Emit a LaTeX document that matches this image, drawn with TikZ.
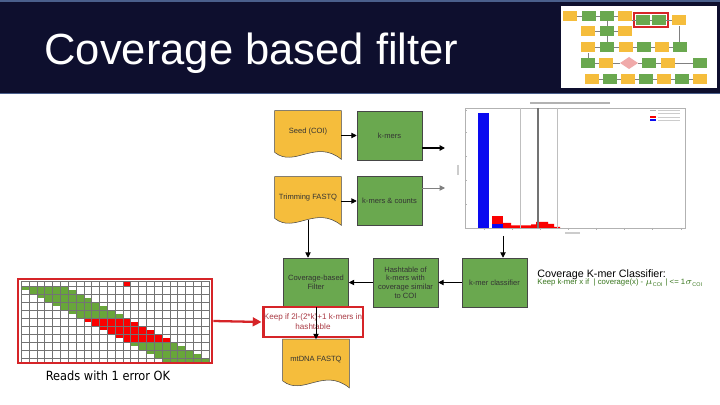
\documentclass[tikz,border=0pt]{standalone}
\usepackage{fontspec}
\setmainfont{Liberation Sans}
\newfontfamily\readsfont{DejaVu Sans Condensed}
\usepackage{tikz}
\usetikzlibrary{arrows.meta, positioning, calc, backgrounds}
\usepackage{xcolor}

\definecolor{barnavy}{RGB}{14,15,46}
\definecolor{barline}{RGB}{74,95,140}
\definecolor{docyellow}{RGB}{245,189,60}
\definecolor{boxgreen}{RGB}{106,168,79}
\definecolor{edgegray}{RGB}{70,70,70}
\definecolor{hlred}{RGB}{214,36,40}
\definecolor{keeptext}{RGB}{170,60,70}
\definecolor{readgreen}{RGB}{104,166,58}
\definecolor{readred}{RGB}{250,0,0}
\definecolor{rulegreen}{RGB}{56,118,29}
\definecolor{histblue}{RGB}{10,10,240}
\definecolor{thumbpink}{RGB}{240,170,170}

\newcommand\boxfont{\fontsize{4.3}{5}\selectfont}
\newcommand\docpath[1]{%
  \filldraw[fill=docyellow, draw=edgegray, line width=0.3pt]
    (#1.north west) -- (#1.north east) -- ($(#1.south east)+(0,7)$)
    .. controls ($(#1.south east)+(-26,-14)$) and ($(#1.south west)+(20,16)$) .. (#1.south west) -- cycle;}

\tikzset{
  flowbox/.style={draw=edgegray, line width=0.3pt, fill=boxgreen, minimum width=1.3cm,
    minimum height=0.98cm, align=center, font=\boxfont, inner sep=1pt, text=black!80},
  doctext/.style={minimum width=1.32cm, minimum height=0.82cm, align=center,
    font=\boxfont, inner sep=1pt, text=black!80},
  arr/.style={-{Triangle[length=3pt,width=3pt]}, line width=0.5pt},
  gridline/.style={black!55, line width=0.15pt},
}

\begin{document}
\begin{tikzpicture}[x=0.02cm, y=-0.02cm]
  \useasboundingbox (0,0) rectangle (720,405);

  % title bar
  \fill[barnavy] (0,0) rectangle (720,94);
  \draw[barline, line width=1pt] (0,0.8) -- (720,0.8);
  \draw[barline, line width=1pt] (0,93.5) -- (720,93.5);
  \node[anchor=base west, text=white, font=\fontsize{24.8}{28}\selectfont, inner sep=0pt]
    (title) at (44,65) {Coverage based filter};

  % thumbnail of the whole pipeline
  \fill[white] (561,6) rectangle (717,88);
  \foreach \x/\y in {563/11,618/11,672/15,581/26,618/26,581/42,619/42,655/42,599/58,661/58,
                     585/74,621/74,657/74,693/74}
    \fill[docyellow] (\x,\y) rectangle ++(14,10);
  \foreach \x/\y in {582/11,600/11,636/15,652/15,600/26,600/42,637/42,673/42,581/58,642/58,
                     693/58,603/74,639/74,675/74}
    \fill[boxgreen] (\x,\y) rectangle ++(14,10);
  \fill[thumbpink] (620,63) -- (629,57) -- (638,63) -- (629,69) -- cycle;
  \draw[hlred, line width=0.8pt] (634,13) rectangle (668,27);
  \foreach \xa/\xb/\y in {577/582/16,596/600/16,614/618/16,632/636/20,650/652/20,666/672/20,
                          595/600/31,614/618/31,595/600/47,614/619/47,633/637/47,651/655/47,669/673/47,
                          595/599/63,613/620/63,638/642/63,656/661/63,675/693/63,
                          599/603/79,617/621/79,635/639/79,653/657/79,671/675/79,689/693/79}
    \draw[gray, line width=0.3pt] (\xa,\y) -- (\xb,\y);
  \draw[gray, line width=0.3pt] (679,26) -- (679,42);
  \draw[gray, line width=0.3pt] (607,21) -- (607,26);
  \draw[gray, line width=0.3pt] (607,36) -- (607,42);
  \draw[gray, line width=0.3pt] (588,53) -- (588,58);

  % flowchart
  \node[doctext] (seed) at (308,131.5) {Seed (COI)};
  \node[flowbox] (kmers) at (389.5,135.5) {k-mers};
  \node[doctext] (trim) at (308,197.5) {Trimming FASTQ};
  \node[flowbox] (kcounts) at (389.5,201) {k-mers \& counts};
  \node[flowbox] (filter) at (316,282.5) {Coverage-based\\Filter};
  \node[flowbox] (hash) at (405.5,282.5) {Hashtable of\\k-mers with\\coverage similar\\to COI};
  \node[flowbox] (classif) at (494.5,282.5) {k-mer classifier};
  \node[draw=hlred, fill=white, line width=1.7pt, minimum width=2cm, minimum height=0.6cm,
    align=center, font=\fontsize{4.6}{5.6}\selectfont, text=keeptext, inner sep=0pt]
    (keep) at (313,322) {Keep if 2l-(2*k)+1 k-mers in\\hashtable};
  \node[doctext] (mtdna) at (316,360) {mtDNA FASTQ};

  \begin{scope}[on background layer]
    \fill[white] (0,95) rectangle (720,405);
    \docpath{seed}
    \docpath{trim}
    \docpath{mtdna}
  \end{scope}

  \coordinate (histin1) at (445,148);
  \coordinate (histin2) at (445,188);
  \coordinate (histout) at (503,236);

  \draw[arr] (seed.east |- kmers.west) -- (kmers.west);
  \draw[arr] (trim.east |- kcounts.west) -- (kcounts.west);
  \draw[arr, line width=0.8pt] (kmers.east |- histin1) -- (histin1);
  \draw[arr, gray] (kcounts.east |- histin2) -- (histin2);
  \draw[arr] ([yshift=-0.04cm]trim.south) -- (trim.south |- filter.north);
  \draw[arr] (histout) -- (histout |- classif.north);
  \draw[arr] (classif.west) -- (hash.east);
  \draw[arr] (hash.west) -- (filter.east);
  \draw[arr] (filter.south) -- (mtdna.north);

  % histogram
  \node[draw=gray!60, line width=0.4pt, minimum width=4.4cm, minimum height=2.4cm, inner sep=0pt]
    (hist) at (575,168) {};
  \draw[gray!60, line width=0.6pt] (530,103) -- (610,103);
  \fill[histblue] (478,113) rectangle (489,228);
  \fill[readred] (492,216) rectangle (503,224);
  \fill[histblue] (492,224) rectangle (503,228);
  \fill[readred] (503,228) -- (503,223) -- (511,223) -- (511,225.5) -- (531,225.5) -- (531,224.5)
    -- (536,224.5) -- (536,222) -- (548,222) -- (548,224) -- (554,224) -- (554,227) -- (560,227)
    -- (560,228) -- cycle;
  \draw[gray!50, line width=0.4pt] (520,108) -- (520,228);
  \draw[gray!90!black, line width=0.6pt] (538,108) -- (538,228);
  \draw[gray!50, line width=0.4pt] (557,108) -- (557,228);
  \foreach \y in {110,132,156,180,204}
    \draw[gray!60, line width=0.3pt] (465,\y) -- (467,\y);
  \foreach \x in {484,512,540,568,596,624,652,681}
    \draw[gray!60, line width=0.3pt] (\x,228) -- (\x,230);
  \draw[gray!40, line width=0.6pt] (458,165) -- (458,175);
  \draw[gray!40, line width=0.6pt] (565,233) -- (580,233);
  % legend
  \draw[gray!60, line width=0.4pt] (650,110) -- (656,110);
  \fill[readred] (650,116) rectangle (656,118);
  \fill[histblue] (650,119.5) rectangle (656,121.5);
  \foreach \y in {110,113,117,120.5}
    \draw[gray!40, line width=0.5pt] (658,\y) -- (680,\y);

  % classifier rule
  \node[anchor=base west, font=\fontsize{6.1}{7}\selectfont, inner sep=0pt]
    (clsname) at (537,277) {Coverage K-mer Classifier:};
  \node[anchor=base west, font=\fontsize{4.4}{5}\selectfont, text=rulegreen, inner sep=0pt]
    (clsrule) at (537,284.5)
    {Keep k-mer x if \ \textbar\ coverage(x) - $\mu_{\mathrm{COI}}$ \textbar\ <= 1$\sigma_{\mathrm{COI}}$};

  % reads grid
  \foreach \r in {0,...,18} {
    \pgfmathtruncatemacro\cend{min(\r+5,23)}
    \pgfmathtruncatemacro\isred{and(\r>7,\r<14)}
    \ifnum\isred=1 \def\cc{readred}\else\def\cc{readgreen}\fi
    \fill[\cc] ({21+\r*7.83},{286+\r*4}) rectangle ({21+(\cend+1)*7.83},{286+(\r+1)*4});
  }
  \fill[readred] ({21+13*7.83},281) rectangle ({21+14*7.83},286);
  \foreach \c in {0,...,24}
    \draw[gridline] ({21+\c*7.83},281) -- ({21+\c*7.83},362);
  \draw[gridline] (21,281) -- (209,281);
  \foreach \r in {0,2,...,18}
    \draw[gridline] (21,{286+4*\r}) -- (209,{286+4*\r});
  \node[draw=hlred, line width=1.6pt, minimum width=3.88cm, minimum height=1.68cm, inner sep=0pt]
    (grid) at (115,321) {};
  \node[font=\readsfont\fontsize{7.2}{8}\selectfont, inner sep=0pt] (reads) at (108,376)
    {Reads with 1 error OK};

  \draw[-{Triangle[length=5pt,width=5pt]}, hlred, line width=1.3pt] (grid.east) -- (keep.west);
\end{tikzpicture}
\end{document}
